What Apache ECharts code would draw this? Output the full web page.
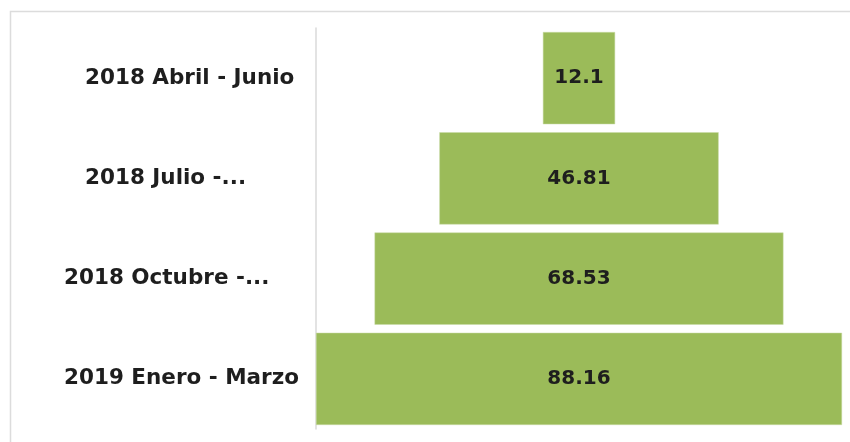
<!DOCTYPE html>
<html><head><meta charset="utf-8">
<script src="https://cdn.jsdelivr.net/npm/echarts@6/dist/echarts.min.js"></script>
<style>html,body{margin:0;padding:0;background:#fff;}#c{width:850px;height:442px;}</style>
</head><body><div id="c"></div>
<script>
const categories = ['2018 Abril - Junio', '2018 Julio - Septiembre', '2018 Octubre - Diciembre', '2019 Enero - Marzo'];
const values = [12.1, 46.81, 68.53, 88.16];
const shiftedLabels = ['2018 Abril - Junio', '2018 Julio - Septiembre'];

const maxV = Math.max(...values);
const offsets = values.map(v => (maxV - v) / 2);
const font = 'DejaVu Sans';
const txt = { fontFamily: font, fontSize: 21.5, fontWeight: 'bold', color: '#1e1e1e' };

const chart = echarts.init(document.getElementById('c'));
chart.setOption({
  animation: false,
  backgroundColor: '#fff',
  graphic: [{
    type: 'rect', z: -10, silent: true,
    shape: { x: 10.5, y: 11.5, width: 860, height: 460 },
    style: { fill: '#fff', stroke: '#dcdcdc', lineWidth: 1.5 }
  }],
  grid: { left: 316, right: 8, top: 28, bottom: 13, containLabel: false, outerBoundsMode: 'none' },
  xAxis: { type: 'value', min: 0, max: maxV, show: false },
  yAxis: {
    type: 'category', inverse: true,
    data: categories,
    axisLine: { show: true, lineStyle: { color: '#dadada', width: 1.5 } },
    axisTick: { show: false },
    axisLabel: {
      align: 'left', margin: 252, ...txt,
      formatter: v => {
        const t = v.length > 20 ? v.slice(0, v.indexOf(' -') + 2) + '...' : v;
        return shiftedLabels.includes(v) ? '{s|' + t + '}' : '{n|' + t + '}';
      },
      rich: { s: { ...txt, padding: [0, 0, 0, 21] }, n: { ...txt } }
    }
  },
  series: [
    { type: 'bar', stack: 'f', data: offsets, itemStyle: { color: 'transparent' }, silent: true, barCategoryGap: '8%' },
    { type: 'bar', stack: 'f', data: values, barCategoryGap: '8%',
      itemStyle: { color: '#9bbb59', borderColor: '#c9dba6', borderWidth: 0.5 },
      label: { show: true, position: 'inside', ...txt, fontSize: 20 } }
  ]
});
</script></body></html>
